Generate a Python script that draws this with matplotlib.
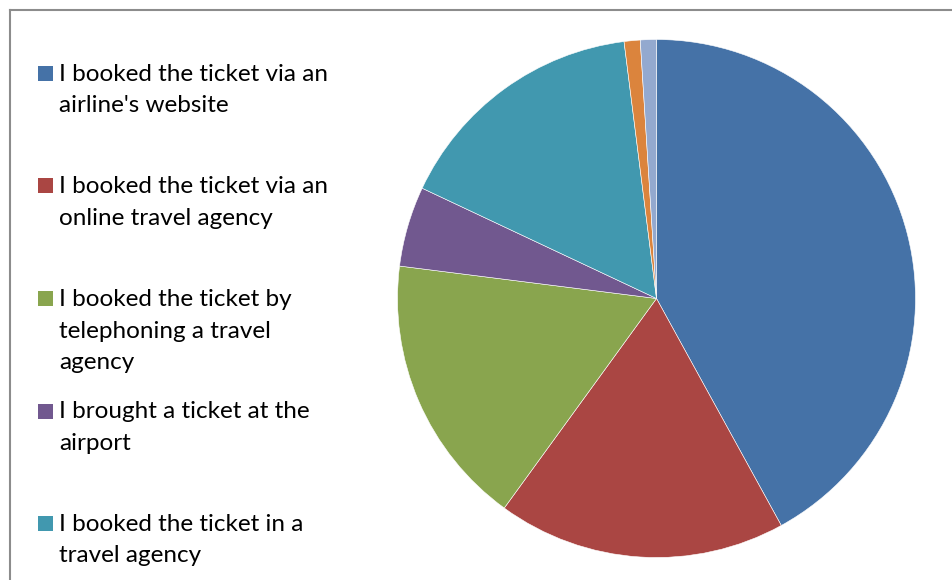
import matplotlib
matplotlib.use("Agg")
import matplotlib.pyplot as plt
from matplotlib.patches import Rectangle
from matplotlib.lines import Line2D

# Share of respondents by booking channel (percent)
shares = [42, 18, 17, 5, 16, 1, 1]
colors = ["#4572A7", "#AA4643", "#89A54E", "#71588F", "#4198AF", "#DB843D", "#93A9CF"]
legend_labels = [
    ["I booked the ticket via an", "airline's website"],
    ["I booked the ticket via an", "online travel agency"],
    ["I booked the ticket by", "telephoning a travel", "agency"],
    ["I brought a ticket at the", "airport"],
    ["I booked the ticket in a", "travel agency"],
]

W, H = 952, 580
fig = plt.figure(figsize=(W / 100, H / 100), dpi=100)
fig.patch.set_facecolor("white")

# chart frame (left and top edges)
fig.add_artist(Line2D([9.5 / W, 9.5 / W], [0, 1 - 10 / H], transform=fig.transFigure,
                      color="#8c8c8c", lw=1.5))
fig.add_artist(Line2D([9.5 / W, 1], [1 - 10 / H, 1 - 10 / H], transform=fig.transFigure,
                      color="#8c8c8c", lw=1.5))

# pie plot area: centre (656.5, 298.5) px, radius 259 px
r_px = 259
cx, cy = 656.5, 298.5
ax = fig.add_axes([(cx - r_px) / W, (H - cy - r_px) / H, 2 * r_px / W, 2 * r_px / H])
ax.pie(shares, colors=colors, startangle=90, counterclock=False, radius=1,
       wedgeprops=dict(edgecolor="white", linewidth=0.4))
ax.set_xlim(-1, 1)
ax.set_ylim(-1, 1)
ax.set_aspect("equal")
ax.axis("off")

# legend entries
first_baseline = 81
entry_step = 112.5
line_step = 31.5
for k, lines in enumerate(legend_labels):
    base = first_baseline + k * entry_step
    fig.add_artist(Rectangle((38 / W, 1 - base / H), 15 / W, 15 / H,
                             transform=fig.transFigure, facecolor=colors[k],
                             edgecolor="none"))
    for i, line in enumerate(lines):
        fig.text(59 / W, 1 - (base + i * line_step) / H, line, fontsize=17.5,
                 family="Lato", va="baseline", ha="left", color="#000000")

fig.savefig("out.png", dpi=100, facecolor="white")
